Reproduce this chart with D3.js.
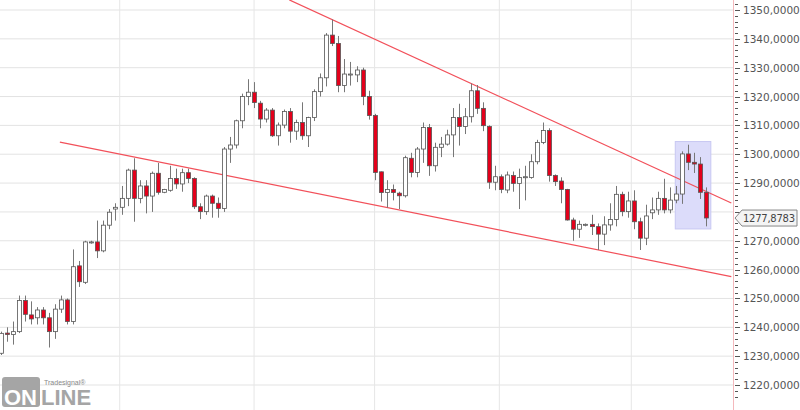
<!DOCTYPE html>
<html>
<head>
<meta charset="utf-8">
<script src="https://cdn.jsdelivr.net/npm/d3@7"></script>
<style>
  body { margin: 0; background: #fff; }
  svg { display: block; }
</style>
</head>
<body>
<svg id="chart" width="800" height="410"></svg>
<script>
const open = [1231.0,1238.0,1237.5,1238.5,1249.3,1244.3,1243.3,1246.0,1243.3,1238.5,1246.3,1249.5,1242.0,1261.3,1255.6,1269.6,1269.6,1266.5,1275.4,1281.0,1281.6,1284.7,
  1294.5,1284.7,1289.0,1285.5,1293.4,1286.8,1287.5,1291.6,1289.7,1293.6,1291.6,1281.8,1280.1,1285.5,1283.0,1281.2,1301.8,1303.2,1311.6,1320.0,1321.5,
  1317.7,1312.2,1315.3,1306.4,1310.1,1314.8,1308.0,1311.0,1306.4,1312.7,1321.7,1326.5,1341.3,1338.4,1323.8,1327.8,1327.5,1329.2,1320.0,1313.4,
  1293.9,1286.7,1287.8,1286.5,1285.6,1298.6,1293.7,1301.8,1309.3,1296.0,1302.4,1303.5,1306.7,1312.7,1309.6,1313.0,1322.0,1315.9,1309.6,1290.3,1292.2,
  1287.6,1292.6,1289.9,1291.9,1291.9,1297.4,1304.1,1308.2,1292.6,1290.7,1287.8,1277.2,1274.0,1275.7,1275.7,1274.9,1272.3,1275.5,1277.4,1286.1,1280.1,
  1283.8,1276.6,1270.9,1279.7,1280.7,1284.7,1280.7,1284.1,1286.2,1300.1,1297.2,1296.6,1286.8];
const close = [1237.9,1237.5,1238.5,1249.3,1244.5,1242.9,1246.0,1243.3,1238.5,1246.3,1249.5,1242.0,1261.0,1255.8,1269.6,1269.6,1266.5,1275.4,1279.9,1281.6,1284.7,1294.5,
  1284.7,1289.0,1285.5,1293.4,1286.8,1287.8,1291.6,1289.7,1293.6,1291.6,1281.8,1280.1,1285.5,1283.0,1281.2,1301.8,1303.2,1311.6,1320.0,1321.5,1317.9,
  1312.2,1315.3,1306.4,1310.1,1314.8,1308.0,1311.0,1306.4,1312.7,1321.7,1326.5,1341.3,1338.4,1323.8,1327.8,1327.8,1329.2,1320.0,1313.4,1293.7,
  1286.7,1287.8,1286.7,1285.6,1298.8,1293.7,1301.8,1309.3,1296.0,1302.4,1303.5,1306.7,1312.7,1309.6,1313.0,1322.0,1315.9,1309.9,1290.3,1292.2,1287.8,
  1292.8,1289.9,1291.9,1292.2,1297.4,1304.1,1308.2,1292.6,1290.5,1287.8,1277.2,1274.0,1275.7,1275.7,1274.9,1272.3,1275.5,1277.4,1286.1,1280.1,1283.8,
  1276.6,1270.9,1278.6,1280.7,1284.7,1280.7,1284.1,1286.2,1300.1,1297.2,1296.6,1286.8,1277.9];
const high = [1238.5,1240.0,1242.0,1251.0,1251.0,1249.0,1247.0,1247.0,1245.0,1248.0,1251.0,1250.0,1267.0,1263.0,1270.0,1270.0,1277.0,1277.0,1281.0,1283.0,1289.0,1295.0,
  1298.6,1291.0,1291.0,1294.0,1297.0,1288.0,1296.0,1295.0,1295.0,1295.0,1292.0,1283.0,1286.0,1286.0,1285.0,1302.5,1306.0,1312.0,1321.0,1326.0,1325.0,
  1318.5,1316.0,1316.0,1311.0,1315.5,1316.0,1312.0,1318.0,1313.0,1322.5,1328.0,1342.0,1346.7,1341.0,1333.0,1332.0,1330.5,1330.0,1322.0,1314.0,
  1294.0,1291.0,1289.5,1287.0,1299.5,1300.5,1302.5,1311.0,1310.5,1304.0,1306.0,1308.5,1316.0,1317.5,1316.0,1324.5,1324.0,1318.0,1310.0,1296.0,1293.0,
  1294.0,1294.0,1295.0,1296.0,1300.0,1305.0,1311.0,1309.0,1293.0,1292.0,1288.0,1278.0,1277.0,1276.0,1279.0,1276.0,1278.5,1283.0,1289.0,1287.0,1287.0,
  1287.5,1278.0,1282.5,1285.0,1287.0,1291.5,1288.5,1289.0,1301.0,1303.3,1300.5,1299.0,1288.5];
const low = [1230.4,1235.0,1234.0,1238.0,1242.0,1241.0,1241.0,1241.0,1233.0,1236.0,1245.0,1241.0,1241.0,1254.0,1255.0,1269.0,1264.0,1266.0,1274.0,1277.0,1279.0,1282.0,
  1276.6,1283.0,1279.5,1280.0,1286.0,1286.5,1287.0,1288.0,1287.0,1290.0,1281.0,1277.5,1279.0,1278.0,1278.0,1280.0,1297.0,1302.0,1309.0,1317.0,1316.0,
  1309.0,1311.0,1306.0,1303.0,1309.0,1304.0,1305.0,1305.0,1302.5,1311.5,1320.0,1323.5,1337.5,1321.5,1321.5,1323.8,1325.0,1317.0,1312.0,1291.0,
  1283.6,1281.5,1284.0,1281.0,1285.0,1292.0,1292.0,1297.0,1292.5,1294.0,1299.0,1303.0,1299.0,1303.0,1307.0,1311.0,1314.0,1308.0,1288.0,1287.5,1286.5,
  1286.5,1287.0,1281.0,1284.0,1291.5,1296.5,1303.5,1290.5,1289.0,1283.0,1277.0,1270.0,1271.0,1275.0,1272.0,1266.8,1268.5,1273.5,1275.0,1278.5,1278.0,
  1274.0,1266.8,1268.5,1277.5,1279.0,1279.5,1279.5,1283.0,1282.8,1294.5,1293.5,1284.5,1275.0];

const yTicks = d3.range(1220, 1351, 10);
const gridIdx = [19.7, 42, 62, 82.7, 104.6];
const upperTrend = [[47.85, 1353.5], [121.2, 1283.1]];
const lowerTrend = [[9.77, 1304.2], [121.2, 1257.6]];
const highlight = { from: 111.9, to: 117.8, top: 1304.4, bottom: 1274.1 };
const lastPrice = 1277.8783;

const svg = d3.select('#chart');
const axisX = 733;
const fmt = v => d3.format('.4f')(v).replace('.', ',');

const x = d3.scaleLinear().domain([0, close.length - 1]).range([1, 706]);
const y = d3.scaleLinear().domain([1220, 1350]).range([385, 10]);

// grid
svg.append('g').selectAll('line').data(yTicks).join('line')
  .attr('x1', 0).attr('x2', axisX).attr('y1', d => y(d)).attr('y2', d => y(d))
  .attr('stroke', '#e3e3e3').attr('stroke-width', 1);
svg.append('g').selectAll('line').data(gridIdx).join('line')
  .attr('x1', d => x(d)).attr('x2', d => x(d)).attr('y1', 0).attr('y2', 410)
  .attr('stroke', '#e6e6e6').attr('stroke-width', 1);

// highlight box
svg.append('rect')
  .attr('x', x(highlight.from)).attr('width', x(highlight.to) - x(highlight.from))
  .attr('y', y(highlight.top)).attr('height', y(highlight.bottom) - y(highlight.top))
  .attr('fill', '#dcdcfa').attr('stroke', '#c8c8f2').attr('stroke-width', 1);

// trend lines
const line = d3.line().x(d => x(d[0])).y(d => y(d[1]));
svg.append('path').attr('d', line(upperTrend)).attr('stroke', '#f2505a').attr('stroke-width', 1.2).attr('fill', 'none');
svg.append('path').attr('d', line(lowerTrend)).attr('stroke', '#f2505a').attr('stroke-width', 1.2).attr('fill', 'none');

// candles
const candles = svg.append('g').selectAll('g').data(close.map((c, i) => i)).join('g');
candles.append('line')
  .attr('x1', i => Math.round(x(i)) + 0.5).attr('x2', i => Math.round(x(i)) + 0.5)
  .attr('y1', i => y(high[i])).attr('y2', i => y(low[i]))
  .attr('stroke', '#777').attr('stroke-width', 1);
candles.append('rect')
  .attr('x', i => Math.round(x(i)) - 1.5).attr('width', 4)
  .attr('y', i => y(Math.max(open[i], close[i])))
  .attr('height', i => Math.max(1, Math.abs(y(open[i]) - y(close[i]))))
  .attr('fill', i => close[i] < open[i] ? '#e3001b' : '#fff')
  .attr('stroke', '#555').attr('stroke-width', 0.8);

// y axis (the label under the price tag is hidden by it, as in the terminal)
const ly = y(lastPrice);
svg.append('line').attr('x1', axisX + 0.5).attr('x2', axisX + 0.5).attr('y1', 0).attr('y2', 410)
  .attr('stroke', '#f4b8bc');
svg.append('g').selectAll('line').data(d3.range(1216, 1356, 2)).join('line')
  .attr('x1', axisX + 2).attr('x2', d => axisX + (d % 10 === 0 ? 7 : 5))
  .attr('y1', d => Math.round(y(d)) + 0.5).attr('y2', d => Math.round(y(d)) + 0.5)
  .attr('stroke', '#555');
svg.append('g').selectAll('text').data(yTicks.filter(d => Math.abs(y(d) - ly) > 12)).join('text')
  .attr('x', axisX + 10).attr('y', d => y(d) + 4)
  .attr('font-family', 'DejaVu Sans, sans-serif').attr('font-size', 10.5).attr('fill', '#555')
  .text(fmt);

// last price tag
svg.append('path')
  .attr('d', `M${axisX + 2},${ly} L${axisX + 9},${ly - 8} H797 V${ly + 8} H${axisX + 9} Z`)
  .attr('fill', '#f4f4f4').attr('stroke', '#888');
svg.append('text').attr('x', axisX + 10).attr('y', ly + 4)
  .attr('font-family', 'DejaVu Sans, sans-serif').attr('font-size', 10).attr('fill', '#444')
  .attr('textLength', 52).text(fmt(lastPrice));

// logo
const logo = svg.append('g');
logo.append('text').attr('x', 44).attr('y', 385).attr('font-family', 'Arial, sans-serif')
  .attr('font-size', 7).attr('fill', '#888').text('Tradesignal®');
logo.append('rect').attr('x', 2).attr('y', 377).attr('width', 38).attr('height', 30).attr('rx', 3).attr('fill', '#a5a5a5');
logo.append('text').attr('x', 4).attr('y', 405).attr('font-family', 'Liberation Sans, Arial, sans-serif')
  .attr('font-weight', 'bold').attr('font-size', 22).attr('fill', '#fff').text('ON');
logo.append('text').attr('x', 41).attr('y', 405).attr('font-family', 'Liberation Sans, Arial, sans-serif')
  .attr('font-weight', 'bold').attr('font-size', 22).attr('fill', '#a5a5a5').text('LINE');
</script>
</body>
</html>
